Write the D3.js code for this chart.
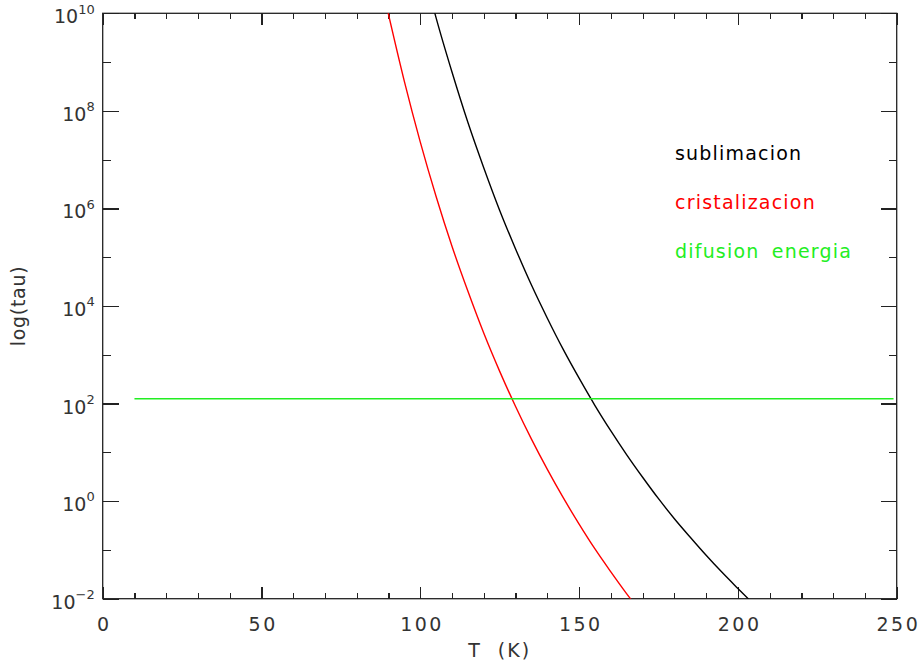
<!DOCTYPE html>
<html lang="es">
<head>
<meta charset="utf-8">
<title>tau vs T</title>
<script src="https://cdn.jsdelivr.net/npm/d3@7"></script>
<style>
  body { margin: 0; background: #fff; }
  svg text { font-family: "DejaVu Sans", "Liberation Sans", sans-serif; fill: #333; }
  .axis path { display: none; }
  .axis line { stroke: #222; stroke-width: 1.2; shape-rendering: crispEdges; }
</style>
</head>
<body>
<script>
// temperatura (K) y log10(tau)
var tSub = [104, 105, 110, 115, 120, 125, 130, 135, 140, 145, 150, 155, 160, 165, 170, 175, 180, 185, 190, 195, 200, 204];
var logSub = [10.14, 9.90, 8.79, 7.76, 6.83, 5.96, 5.17, 4.43, 3.75, 3.11, 2.52, 1.96, 1.44, 0.95, 0.49, 0.05, -0.36, -0.74, -1.11, -1.46, -1.79, -2.05];

var tCris = [89.8, 95, 100, 105, 110, 115, 120, 125, 130, 135, 140, 145, 150, 155, 160, 165, 167];
var logCris = [10.03, 8.60, 7.36, 6.24, 5.22, 4.30, 3.44, 2.66, 1.94, 1.27, 0.65, 0.07, -0.47, -0.98, -1.45, -1.90, -2.07];

var tDif = [10, 249];
var logDif = [2.10, 2.10];

var xMajor = [0, 50, 100, 150, 200, 250];
var yExpMajor = [-2, 0, 2, 4, 6, 8, 10];
var yExpMinor = [-1, 1, 3, 5, 7, 9];

var legendNames = ["sublimacion", "cristalizacion", "difusion energia"];
var legendColors = ["#000000", "#ff0000", "#22ee22"];

var w = 920, h = 666;
var mLeft = 102.7, mRight = 896.7, mTop = 13.3, mBottom = 598.7;

var svg = d3.select("body").append("svg")
    .attr("width", w)
    .attr("height", h);

var x = d3.scaleLinear().domain([0, 250]).range([mLeft, mRight]);
var y = d3.scaleLog().domain([1e-2, 1e10]).range([mBottom, mTop]);

svg.append("clipPath").attr("id", "plotclip")
  .append("rect")
    .attr("x", mLeft).attr("y", mTop)
    .attr("width", mRight - mLeft).attr("height", mBottom - mTop);

var xMinor = d3.range(0, 251, 10).filter(function(d) { return d % 50 != 0; });
var pow = function(e) { return Math.pow(10, e); };

// ejes (ticks hacia dentro en los cuatro lados)
svg.append("g").attr("class", "axis")
    .attr("transform", "translate(0," + mBottom + ")")
    .call(d3.axisBottom(x).tickValues(xMinor).tickSize(-6).tickFormat(""));
var xb = svg.append("g").attr("class", "axis")
    .attr("transform", "translate(0," + mBottom + ")")
    .call(d3.axisBottom(x).tickValues(xMajor).tickSize(-12).tickPadding(19).tickFormat(d3.format("d")));
xb.selectAll("text")
    .style("font-size", "19px")
    .style("letter-spacing", "2.5px")
    .attr("dx", "1.2px");

svg.append("g").attr("class", "axis")
    .attr("transform", "translate(0," + mTop + ")")
    .call(d3.axisTop(x).tickValues(xMinor).tickSize(-6).tickFormat(""));
svg.append("g").attr("class", "axis")
    .attr("transform", "translate(0," + mTop + ")")
    .call(d3.axisTop(x).tickValues(xMajor).tickSize(-12).tickFormat(""));

svg.append("g").attr("class", "axis")
    .attr("transform", "translate(" + mLeft + ",0)")
    .call(d3.axisLeft(y).tickValues(yExpMinor.map(pow)).tickSize(-8).tickFormat(""));
var yl = svg.append("g").attr("class", "axis")
    .attr("transform", "translate(" + mLeft + ",0)")
    .call(d3.axisLeft(y).tickValues(yExpMajor.map(pow)).tickSize(-16).tickPadding(8).tickFormat(""));

yl.selectAll(".tick text").each(function(d) {
  var t = d3.select(this).attr("dy", "0.5em").style("font-size", "19px");
  var e = Math.round(Math.log10(d));
  t.append("tspan").text("10");
  t.append("tspan").attr("dy", "-0.75em").style("font-size", "13px")
    .text(e < 0 ? "\u2212" + (-e) : e);
});

svg.append("g").attr("class", "axis")
    .attr("transform", "translate(" + mRight + ",0)")
    .call(d3.axisRight(y).tickValues(yExpMinor.map(pow)).tickSize(-8).tickFormat(""));
svg.append("g").attr("class", "axis")
    .attr("transform", "translate(" + mRight + ",0)")
    .call(d3.axisRight(y).tickValues(yExpMajor.map(pow)).tickSize(-16).tickFormat(""));

// marco
svg.append("rect")
    .attr("x", mLeft).attr("y", mTop)
    .attr("width", mRight - mLeft).attr("height", mBottom - mTop)
    .attr("fill", "none").attr("stroke", "#222").attr("stroke-width", 1.3);

// curvas
var line = d3.line()
    .x(function(d) { return x(d[0]); })
    .y(function(d) { return y(Math.pow(10, d[1])); })
    .curve(d3.curveMonotoneX);

var series = [
  { t: tSub, v: logSub, c: legendColors[0] },
  { t: tCris, v: logCris, c: legendColors[1] },
  { t: tDif, v: logDif, c: legendColors[2] }
];

svg.append("g").attr("clip-path", "url(#plotclip)")
  .selectAll("path")
  .data(series)
  .enter()
  .append("path")
    .attr("d", function(s) { return line(d3.zip(s.t, s.v)); })
    .attr("fill", "none")
    .attr("stroke", function(s) { return s.c; })
    .attr("stroke-width", 1.4);

// leyenda
svg.selectAll(".legend")
  .data(legendNames)
  .enter()
  .append("text")
    .attr("class", "legend")
    .attr("x", 675)
    .attr("y", function(d, i) { return 160 + i * 48.8; })
    .style("font-size", "19px")
    .style("fill", function(d, i) { return legendColors[i]; })
    .style("letter-spacing", "1.2px")
    .style("word-spacing", "5px")
    .text(function(d) { return d; });

// titulos
svg.append("text")
    .attr("x", (mLeft + mRight) / 2)
    .attr("y", 657)
    .attr("text-anchor", "middle")
    .style("font-size", "19px")
    .style("letter-spacing", "2px")
    .style("word-spacing", "8px")
    .text("T (K)");

svg.append("text")
    .attr("transform", "translate(25," + ((mTop + mBottom) / 2) + ") rotate(-90)")
    .attr("text-anchor", "middle")
    .style("font-size", "19px")
    .style("letter-spacing", "0.7px")
    .text("log(tau)");
</script>
</body>
</html>
